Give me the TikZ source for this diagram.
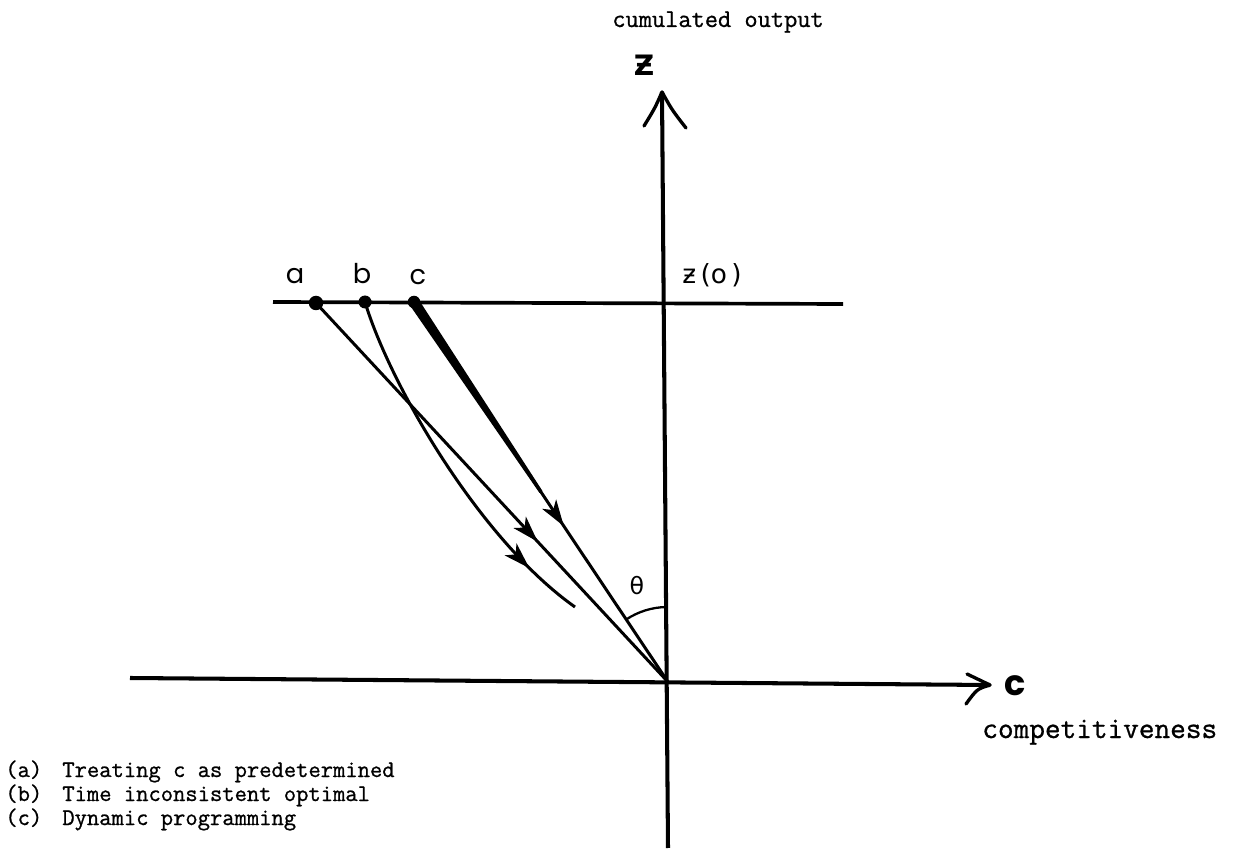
\documentclass[tikz,border=0pt]{standalone}
\usepackage{fontspec}
\newfontfamily\handfont{Poppins}
\newfontfamily\dejavu{DejaVu Sans}
\newfontfamily\typew{Latin Modern Mono}[FakeBold=0.9]
\usetikzlibrary{arrows.meta,decorations.markings,calc}
\begin{document}
\begin{tikzpicture}[x=0.02cm,y=-0.02cm,
  axis/.style={line width=2.3pt},
  barb/.style={line width=1.9pt,line cap=round},
  traj/.style={line width=1.7pt},
  midarrow/.style={postaction={decorate},decoration={markings,
     mark=at position #1 with {\arrow{Stealth[length=15pt,width=9.5pt,inset=4pt]}}}},
  dot/.style={circle,fill,inner sep=0pt,minimum size=#1},
  mono/.style={inner sep=0pt,anchor=base west},
  hand/.style={inner sep=0pt,anchor=base,font=\handfont\fontsize{15.5}{18}\selectfont}]
\useasboundingbox (0,0) rectangle (1235,861);
% coordinates
\coordinate (O) at (668,682);
\coordinate (Ztop) at (662,92);
\coordinate (Zbot) at (668,848);
\coordinate (Cleft) at (130,678);
\coordinate (Cright) at (990,685);
\coordinate (Hl) at (273,302);
\coordinate (Hr) at (843,304);
\coordinate (Bend) at (575,607);
\node[dot=0.29cm] (A) at (316,303) {};
\node[dot=0.26cm] (B) at (365,302) {};
\node[dot=0.25cm] (C) at (414,302) {};
% axes
\draw[axis] (Cleft) -- (Cright);
\draw[axis] (Zbot) -- (Ztop);
\draw[barb] (Ztop) .. controls (655,108) .. (644,126);
\draw[barb] (Ztop) .. controls (672,110) .. (686,128);
\draw[barb] (Cright) .. controls (978,680) .. (967,674);
\draw[barb] (Cright) .. controls (977,689) .. (966,704);
\draw[line width=2.1pt] (Hl) -- (Hr);
% trajectories
\draw[traj,midarrow=0.63] (A.center) -- (O);
\draw[traj,midarrow=0.84] (B.center) .. controls (390,385) and (480,540) .. (Bend);
\draw[traj,midarrow=0.59] (C.center) -- (O);
\coordinate (Cm) at ($(C.center)!0.5!(O)$);
\fill ($(C.center)!3pt!90:(O)$) -- ($(C.center)!3pt!-90:(O)$) -- ($(Cm)!1pt!-90:(O)$) -- ($(Cm)!1pt!90:(O)$) -- cycle;
% angle
\coordinate (T2) at (667,607);
\draw[line width=1.3pt] (T2) arc[start angle=-90.5,end angle=-123.8,radius=75];
\node[inner sep=0pt,font=\dejavu\fontsize{13.5}{15}\selectfont] (th) at (637,586) {θ};
% labels
\node[hand] (la) at (295,284) {a};
\node[hand] (lb) at (362,284) {b};
\node[hand] (lc) at (418,285) {c};
\node[inner sep=0pt,font=\dejavu\bfseries\fontsize{16}{18}\selectfont] (zl) at (644,65) {Ƶ};
\node[inner sep=0pt,anchor=base west,font=\dejavu\fontsize{15}{17}\selectfont] (zo) at (682,284) {ƶ\,(o\,)};
\node[inner sep=0pt,font=\handfont\bfseries\fontsize{20}{22}\selectfont] (cl) at (1015,686) {c};
\node[mono,font=\typew\fontsize{14.6}{16}\selectfont] (yl) at (612,27) {cumulated output};
\node[mono,font=\typew\fontsize{17.3}{19}\selectfont] (xl) at (982,738) {competitiveness};
\begin{scope}[every node/.style={mono,font=\typew\fontsize{13.6}{15}\selectfont}]
\node (ka) at (5,777) {(a)};
\node (ta) at (62,777) {Treating c as predetermined};
\node (kb) at (5,801) {(b)};
\node (tb) at (62,801) {Time inconsistent optimal};
\node (kc) at (5,825) {(c)};
\node (tc) at (62,825) {Dynamic programming};
\end{scope}
\end{tikzpicture}
\end{document}
